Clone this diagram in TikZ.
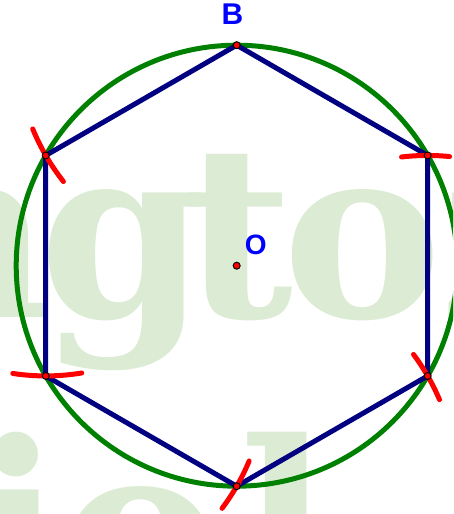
\documentclass[tikz,border=0pt]{standalone}
\usepackage{fontspec}
\newfontfamily\markfont{DejaVu Serif}
\newfontfamily\labelfont{Liberation Sans}
\usetikzlibrary{calc}
\definecolor{wmgreen}{RGB}{220,235,212}
\definecolor{circgreen}{RGB}{0,128,0}
\definecolor{hexblue}{RGB}{0,0,128}
\definecolor{lblblue}{RGB}{0,0,255}

\begin{document}
\begin{tikzpicture}[x=1pt,y=1pt,
  wm/.style={text=wmgreen,font=\markfont\bfseries\fontsize{240}{240}\selectfont,inner sep=0pt,anchor=base},
  arcred/.style={red,line width=5pt,line cap=round},
  pt/.style={fill=red,draw=black,line width=1pt},
  lbl/.style={text=lblblue,font=\labelfont\bfseries,inner sep=0pt}]
\useasboundingbox (0,0) rectangle (453,514);
\clip (0,0) rectangle (453,514);
% watermark
\node[wm,anchor=base east] (w1) at (52,196) {n};
\node[wm] (w2) at (123,196) {g};
\node[wm] (w3) at (238,196) {t};
\node[wm] (w4) at (363,196) {o};
\node[wm,anchor=base west] (w5) at (440,196) {z};
\node[wm] (w6) at (17,-100) {i};
\node[wm] (w7) at (141,-100) {o};
\node[wm] (w8) at (285,-100) {l};
% circle and hexagon
\coordinate (O) at (236.7,248.3);
\foreach \i in {0,...,5} \coordinate (v\i) at ($(O)+(90+60*\i:220.5)$);
\draw[circgreen,line width=5pt] (O) circle (220.5);
\draw[hexblue,line width=5pt,line join=round] (v0)--(v1)--(v2)--(v3)--(v4)--(v5)--cycle;
% compass marks
\draw[arcred] (v0) ++(202.3:220.5) arc[start angle=202.3,end angle=218.2,radius=220.5];
\draw[arcred] (v1) ++(261.4:220.5) arc[start angle=261.4,end angle=279.4,radius=220.5];
\draw[arcred] (v2) ++(323.1:220.5) arc[start angle=323.1,end angle=337.3,radius=220.5];
\draw[arcred] (v3) ++(23.1:220.5) arc[start angle=23.1,end angle=36.7,radius=220.5];
\draw[arcred] (v4) ++(84.3:220.5) arc[start angle=84.3,end angle=96.8,radius=220.5];
% points
\foreach \i in {0,...,5} \draw[pt] (v\i) circle (3.5);
\draw[pt] (O) circle (3.5);
\node[lbl,font=\labelfont\bfseries\fontsize{30}{30}\selectfont] (lB) at (232.5,499.8) {B};
\node[lbl,font=\labelfont\bfseries\fontsize{28}{28}\selectfont] (lO) at (255.8,269.3) {O};
\end{tikzpicture}
\end{document}
